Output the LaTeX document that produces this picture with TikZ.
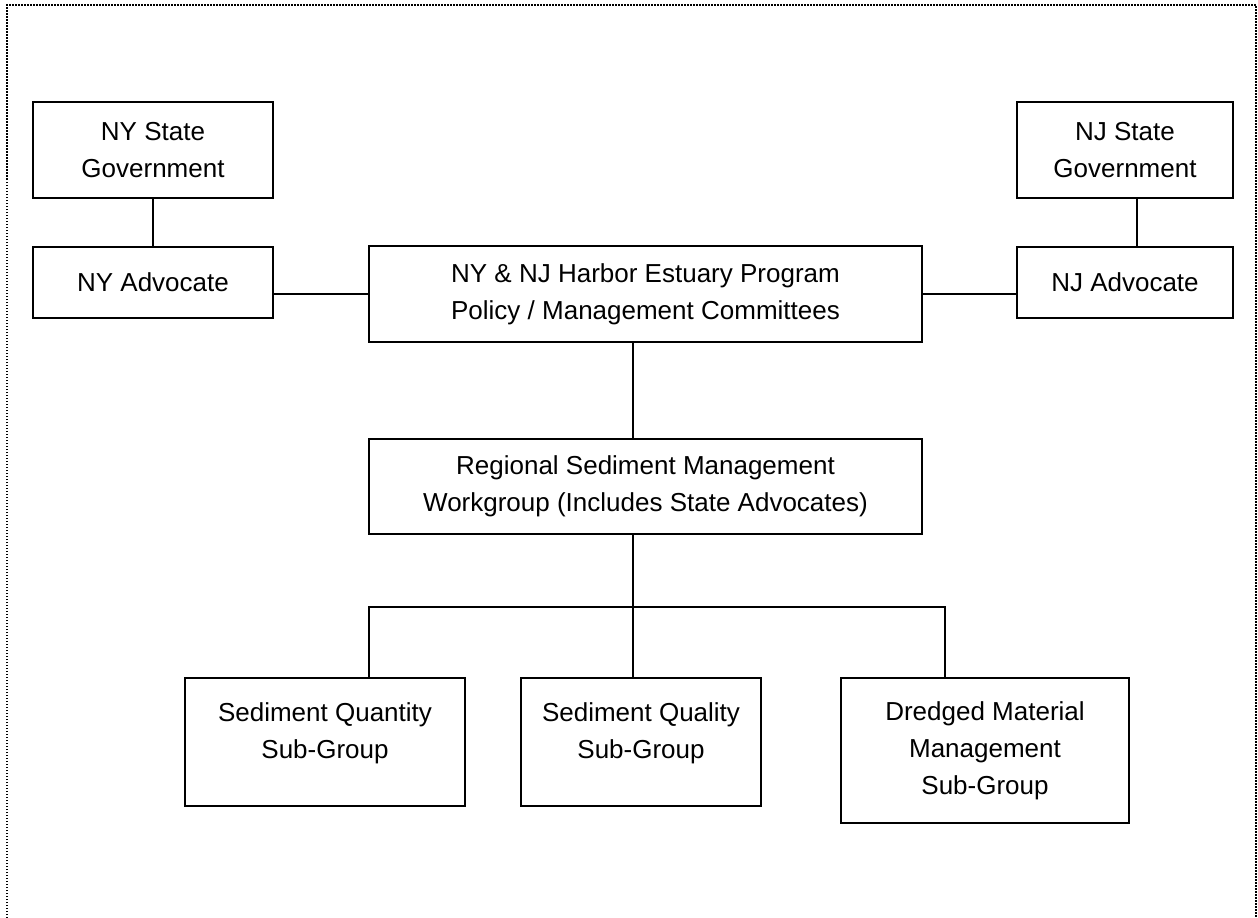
\documentclass[tikz,border=0pt]{standalone}
\usepackage{fontspec}
\setmainfont{Liberation Sans}
\usetikzlibrary{positioning}
\tikzset{
  orgbox/.style={draw,line width=2pt,align=center,inner sep=0pt,font=\fontsize{26}{37}\selectfont},
  link/.style={line width=2pt}
}

\begin{document}
\begin{tikzpicture}[line cap=rect,line join=miter,x=1pt,y=-1pt]
        \useasboundingbox (0,0) rectangle (1258,918);
        \draw[line width=1.2pt,line cap=butt,dash pattern=on 1.5pt off 1.5pt] (7,918) -- (7,5) -- (1256,5) -- (1256,918);
        % state side
        \node[orgbox,minimum width=240,minimum height=96] (nygov) at (153,150) {NY State\\Government};
        \node[orgbox,minimum width=240,minimum height=71] (nyadv) at (153,282.5) {NY Advocate};
        \node[orgbox,minimum width=216,minimum height=96] (njgov) at (1125,150) {NJ State\\Government};
        \node[orgbox,minimum width=216,minimum height=71] (njadv) at (1125,282.5) {NJ Advocate};
        % program and workgroup
        \node[orgbox,minimum width=553,minimum height=96] (hep) at (645.5,294) {NY \& NJ Harbor Estuary Program\\Policy / Management Committees};
        \node[orgbox,minimum width=553,minimum height=95] (rsm) at (645.5,486.5) {Regional Sediment Management\\Workgroup (Includes State Advocates)};
        % sub-groups
        \node[orgbox,minimum width=280,minimum height=128] (qnty) at (325,742) {Sediment Quantity\\Sub-Group\\[-26pt]\strut};
        \node[orgbox,minimum width=240,minimum height=128] (qlty) at (641,742) {Sediment Quality\\Sub-Group\\[-26pt]\strut};
        \node[orgbox,minimum width=288,minimum height=145] (dmm) at (985,750.5) {Dredged Material\\Management\\Sub-Group};
        \coordinate (njx) at (1137,0);
        \coordinate (trunk) at (633,0);
        \coordinate (busL) at (369,607);
        \coordinate (busR) at (945,607);
        \draw[link] (nygov) -- (nyadv);
        \draw[link] (njgov.south -| njx) -- (njadv.north -| njx);
        \draw[link] (nyadv.east |- hep) -- (hep.west);
        \draw[link] (hep.east) -- (njadv.west |- hep);
        \draw[link] (hep.south -| trunk) -- (rsm.north -| trunk);
        \draw[link] (rsm.south -| trunk) -- (qlty.north -| trunk);
        \draw[link] (qnty.north -| busL) -- (busL) -- (busR) -- (dmm.north -| busR);
    \end{tikzpicture}
\end{document}
